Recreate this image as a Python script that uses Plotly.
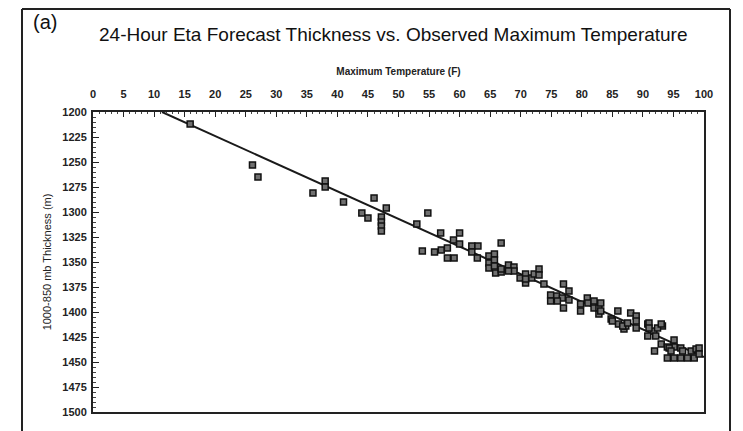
import plotly.graph_objects as go

# Observed maximum temperature (F)
temp_f = [15.9, 26.1, 27, 36, 38, 38, 41, 46, 44, 45, 48,
          47.2, 47.2, 47.2, 47.2, 54.8, 53, 53.9, 55.9, 56.9, 57, 58, 58, 59.1,
          60, 59, 60, 62, 63, 62, 62.9, 64.8, 64.8, 64.8, 65.7, 65.7, 65.7,
          66.8, 65.9, 66.8, 66.8, 68, 68.9, 68.9, 68, 69.9, 70.8, 70.8, 71.8, 72.2, 70.8,
          73, 73, 73.8, 74.9, 74.9, 75.9, 76.8, 77, 77, 77.9, 77.9, 76,
          79.8, 79.8, 80.9, 81, 82, 82, 82.8, 82.8, 83.1, 83.1,
          84.8, 85.9, 86, 86.9, 87.2, 88, 88.9, 88.9, 85, 86.7, 87.5, 88.9,
          90.8, 90.8, 91.8, 92.1, 93.2, 92.4, 91, 91, 93,
          91.9, 93, 94, 95.1, 95.1, 96.2, 94.3, 94.6, 96.5,
          94, 95.1, 96.2, 97.3, 98.4,
          97.9, 98.7, 99.2, 99.2]

# Eta 24-h forecast 1000-850 mb thickness (m)
thickness_m = [1212, 1253, 1265, 1281, 1269, 1275, 1290, 1286, 1301, 1306, 1296,
               1305, 1310, 1314, 1319, 1301, 1312, 1339, 1340, 1321, 1338, 1336, 1346, 1346,
               1321, 1328, 1332, 1334, 1334, 1340, 1346, 1344, 1351, 1356, 1342, 1348, 1354,
               1331, 1361, 1360, 1357, 1353, 1355, 1359, 1359, 1366, 1362, 1371, 1366, 1362, 1367,
               1357, 1363, 1372, 1383, 1389, 1384, 1386, 1396, 1372, 1379, 1388, 1389,
               1392, 1399, 1386, 1391, 1389, 1396, 1396, 1402, 1391, 1399,
               1407, 1399, 1412, 1417, 1414, 1401, 1404, 1409, 1409, 1414, 1411, 1416,
               1412, 1424, 1419, 1424, 1414, 1416, 1411, 1416, 1412,
               1439, 1432, 1435, 1428, 1435, 1436, 1436, 1439, 1439,
               1446, 1446, 1446, 1446, 1446,
               1439, 1437, 1436, 1442]

# Regression line end points
fit_temp = [11.3, 100]
fit_thick = [1200, 1445]

x_ticks = list(range(0, 101, 5))
y_ticks = list(range(1200, 1501, 25))

FONT = "Liberation Sans, Arial, sans-serif"

fig = go.Figure()
fig.add_trace(go.Scatter(x=fit_temp, y=fit_thick, mode="lines",
                         line=dict(color="#1a1a1a", width=2), showlegend=False,
                         hoverinfo="skip"))
fig.add_trace(go.Scatter(x=temp_f, y=thickness_m, mode="markers",
                         marker=dict(symbol="square", size=6, color="#707070",
                                     line=dict(color="#111111", width=1.5)),
                         showlegend=False))

tickfont = dict(family=FONT, size=11, color="#222", weight="bold")

# page body has an 8px offset; plot area spans x 93..704, y 112..412 in the window
OFF = 8
PL, PR, PT, PB = 93, 704, 112, 412
PW, PH = PR - PL, PB - PT


def px(x):
    return (x - PL) / PW


def py(y):
    return (PB - y) / PH


fig.update_layout(
    width=743 - OFF, height=431 - OFF,
    margin=dict(l=PL - OFF, r=743 - PR, t=PT - OFF, b=431 - PB),
    paper_bgcolor="white", plot_bgcolor="white",
    xaxis=dict(side="top", range=[0, 100], tickvals=x_ticks,
               ticktext=[str(v) for v in x_ticks],
               ticks="inside", ticklen=5, tickwidth=1, tickcolor="#222",
               minor=dict(dtick=1, ticks="inside", ticklen=2, tickcolor="#444"),
               showline=True, linecolor="#222", linewidth=2, mirror=True,
               showgrid=False, zeroline=False, tickfont=tickfont,
               ticklabelstandoff=8,
               title=dict(text="Maximum Temperature (F)",
                          font=dict(family=FONT, size=10, color="#222", weight="bold"),
                          standoff=10)),
    yaxis=dict(range=[1500, 1200], tickvals=y_ticks,
               ticktext=[str(v) for v in y_ticks],
               ticks="inside", ticklen=6, tickwidth=1, tickcolor="#222",
               minor=dict(dtick=5, ticks="inside", ticklen=3, tickcolor="#444"),
               showline=True, linecolor="#222", linewidth=2, mirror=True,
               showgrid=False, zeroline=False, tickfont=tickfont,
               ticklabelstandoff=2,
               title=dict(text="1000-850 mb Thickness (m)",
                          font=dict(family=FONT, size=11, color="#222"),
                          standoff=8)),
    annotations=[
        dict(text="(a)", xref="paper", yref="paper",
             x=px(45), y=py(22), xanchor="center", yanchor="middle",
             showarrow=False, font=dict(family=FONT, size=20, color="#111")),
        dict(text="24-Hour Eta Forecast Thickness vs. Observed Maximum Temperature",
             xref="paper", yref="paper",
             x=px(393), y=py(34), xanchor="center", yanchor="middle",
             showarrow=False, font=dict(family=FONT, size=19, color="#111")),
    ],
    shapes=[
        dict(type="line", xref="paper", yref="paper",
             x0=px(22), x1=px(22), y0=py(9), y1=py(440),
             line=dict(color="#222", width=2)),
        dict(type="line", xref="paper", yref="paper",
             x0=px(730), x1=px(730), y0=py(9), y1=py(440),
             line=dict(color="#222", width=2)),
        dict(type="line", xref="paper", yref="paper",
             x0=px(22), x1=px(730), y0=py(9), y1=py(9),
             line=dict(color="#222", width=2)),
    ],
)

fig.write_html("out.html")
